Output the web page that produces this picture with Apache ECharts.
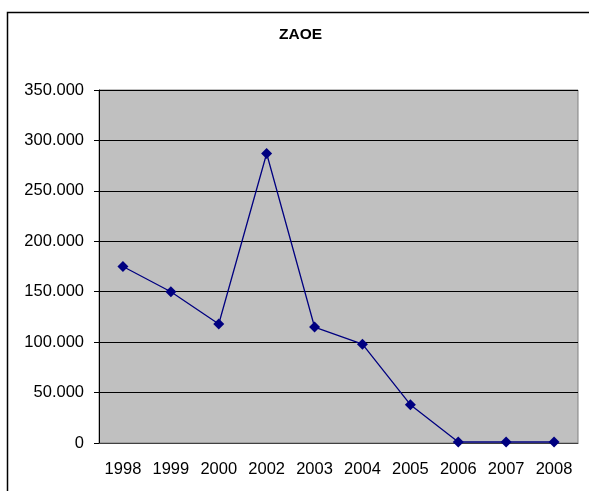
<!DOCTYPE html>
<html>
<head>
<meta charset="utf-8">
<script src="https://cdn.jsdelivr.net/npm/echarts@6/dist/echarts.min.js"></script>
<style>
  html, body { margin: 0; padding: 0; background: #fff; }
  #chart { width: 589px; height: 491px; }
</style>
</head>
<body>
<div id="chart"></div>
<script>
// categories (no 2001 in the source table)
const years = ['1998', '1999', '2000', '2002', '2003', '2004', '2005', '2006', '2007', '2008']
const zaoe = [175000, 150000, 118000, 287000, 115000, 98000, 38000, 1000, 1000, 1000]

const yMin = 0
const yMax = 350000
const yStep = 50000

const font = 'Liberation Sans, Arial, sans-serif'

let chart = echarts.init(document.getElementById('chart'))

let option = {
  animation: false,
  backgroundColor: '#fff',
  title: {
    text: 'ZAOE',
    left: 279,
    top: 27,
    padding: 0,
    textStyle: {
      fontFamily: font,
      fontSize: 15.5,
      fontWeight: 'bold',
      color: '#000'
    }
  },
  graphic: [
    {
      type: 'rect',
      silent: true,
      shape: { x: 7.5, y: 12.5, width: 700, height: 600 },
      style: { fill: 'none', stroke: '#000', lineWidth: 1.5 }
    }
  ],
  grid: {
    left: 99,
    top: 90,
    right: 11,
    bottom: 48,
    show: true,
    backgroundColor: '#C0C0C0',
    borderColor: '#808080',
    borderWidth: 1
  },
  xAxis: {
    type: 'category',
    data: years,
    boundaryGap: true,
    axisLine: { lineStyle: { color: '#404040', width: 1 } },
    axisTick: { length: 5, inside: false, lineStyle: { color: '#000' } },
    axisLabel: {
      margin: 18,
      fontFamily: font,
      fontSize: 16.5,
      color: '#000'
    },
    splitLine: { show: false }
  },
  yAxis: {
    type: 'value',
    min: yMin,
    max: yMax,
    interval: yStep,
    axisLine: { show: true, lineStyle: { color: '#000', width: 1 } },
    axisTick: { show: true, length: 5, lineStyle: { color: '#000' } },
    axisLabel: {
      margin: 15,
      fontFamily: font,
      fontSize: 16.5,
      color: '#000',
      formatter: function (v) {
        return v === 0 ? '0' : (v / 1000) + '.000'
      }
    },
    splitLine: { show: true, lineStyle: { color: '#000', width: 1 } }
  },
  series: [
    {
      name: 'ZAOE',
      type: 'line',
      data: zaoe,
      symbol: 'diamond',
      symbolSize: 11,
      lineStyle: { color: '#000080', width: 1.3 },
      itemStyle: { color: '#000080' }
    }
  ]
}

chart.setOption(option)
</script>
</body>
</html>
